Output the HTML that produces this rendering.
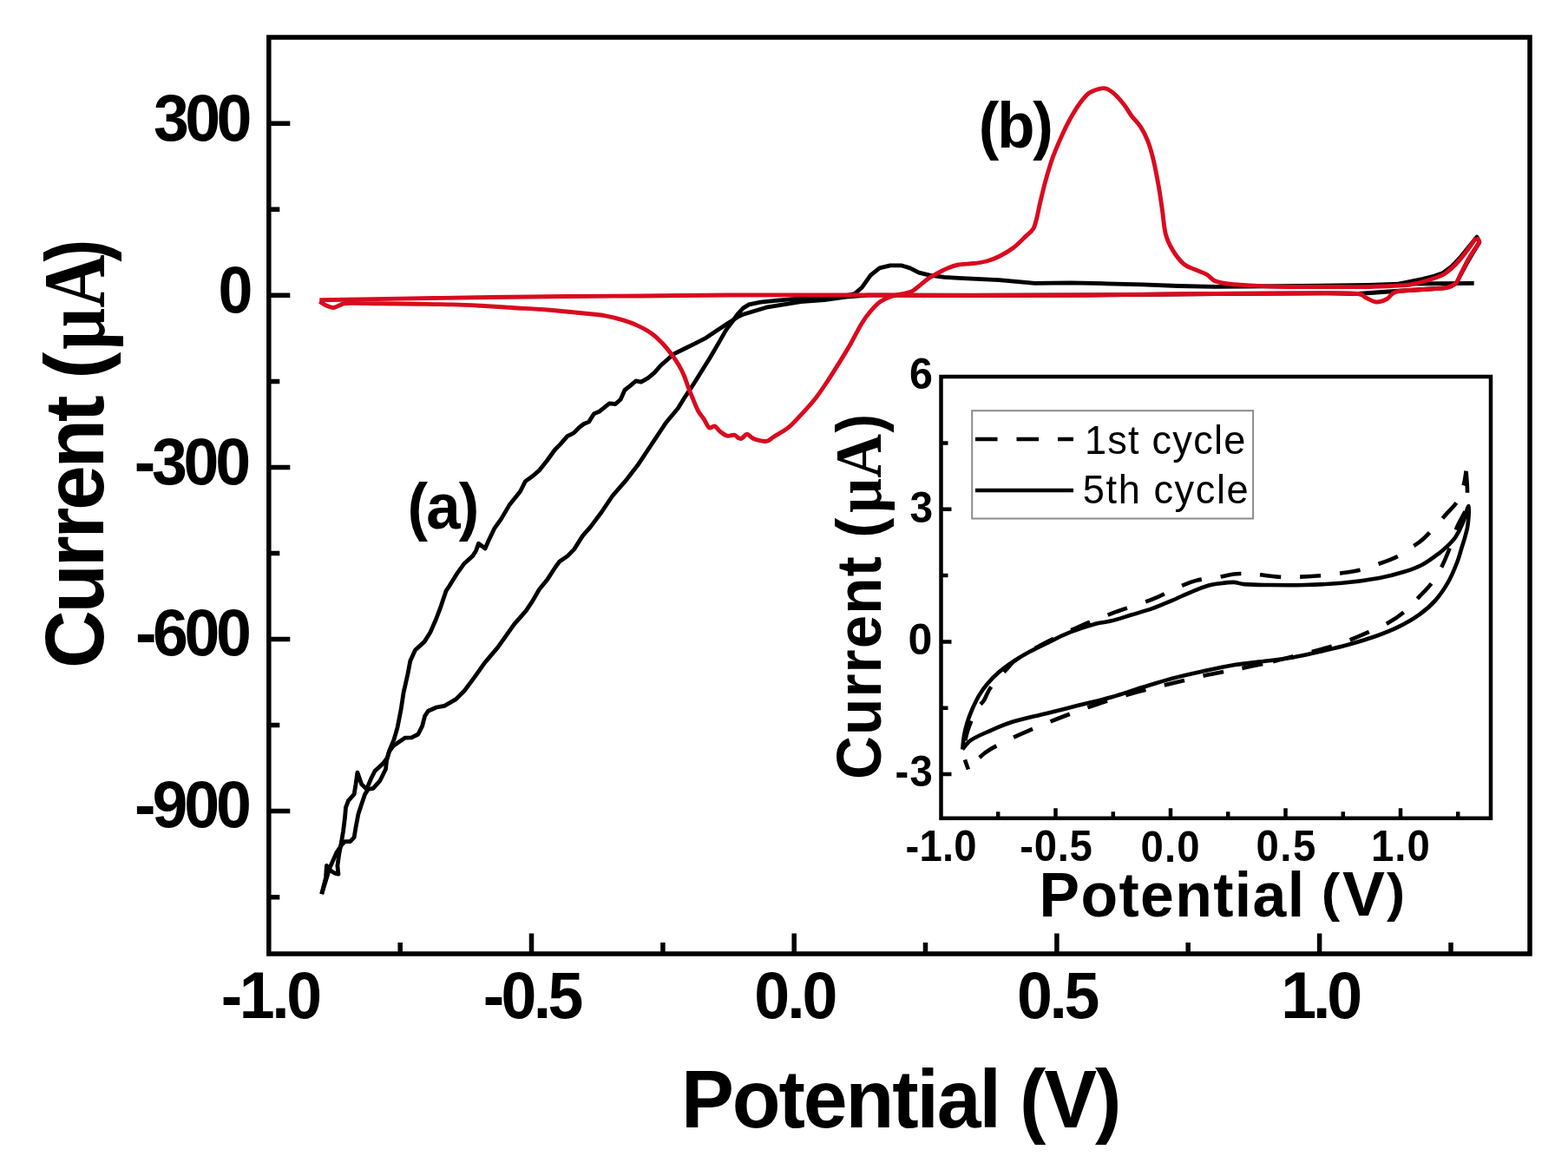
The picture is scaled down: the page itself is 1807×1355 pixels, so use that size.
<!DOCTYPE html>
<html><head><meta charset="utf-8"><title>Cyclic voltammogram</title>
<style>
html,body{margin:0;padding:0;background:#fff;overflow:hidden;}
svg{display:block;}
.b{font-family:"Liberation Sans",Arial,sans-serif;font-weight:bold;fill:#000;}
.r{font-family:"Liberation Sans",Arial,sans-serif;font-weight:normal;fill:#000;}
.s{font-family:"Liberation Serif","Times New Roman",serif;font-weight:bold;}
</style></head><body>
<svg width="1807" height="1355" viewBox="0 0 1807 1355">
<rect x="0" y="0" width="1807" height="1355" fill="#fff"/>
<g fill="none" stroke="#000" stroke-width="4.8" stroke-linejoin="round" stroke-linecap="butt">
<polyline id="blkA" points="370.7,1030.1 375.5,1011.0 376.4,997.5 381.2,1003.3 386.0,1006.2 389.9,1007.1 388.9,997.5 390.8,984.1 393.7,968.8 395.6,957.3 397.5,941.9 398.5,930.4 401.4,922.7 408.1,915.1 410.0,903.6 411.9,890.1 416.7,903.6 422.5,909.3 427.3,897.8 432.1,888.2 441.6,879.6 446.4,872.9 449.3,863.3 454.1,851.8 458.0,838.4 462.2,817.0 465.1,797.9 469.9,776.8 472.8,761.5 478.5,749.0 489.1,739.4 495.8,728.8 502.5,713.5 508.3,698.1 514.0,680.9 517.9,675.1 527.4,659.8 535.1,649.2 544.7,640.6 548.5,634.8 551.4,626.2 559.1,632.0 562.9,623.3 569.7,608.9 577.3,598.4 586.9,582.1 596.5,570.0 599.4,566.5 605.4,554.6 613.6,548.7 621.9,541.6 630.2,531.0 639.6,518.0 645.5,512.1 653.8,502.7 660.9,499.1 666.8,493.2 672.7,488.5 678.6,486.1 684.5,476.7 690.4,474.3 702.2,464.9 709.3,465.5 715.2,460.2 719.9,449.5 725.8,444.8 732.9,438.9 738.8,440.1 747.1,435.4 754.2,429.4 761.3,421.2 776.0,408.2 788.4,402.0 800.8,395.8 813.2,389.6 825.6,381.3 838.0,373.1 850.4,365.2 856.6,362.2 869.8,358.2 883.1,354.2 903.0,350.9 923.0,347.6 950.0,345.5 975.0,342.0 1000.0,340.2 1120.0,340.3 1250.0,340.0 1400.0,338.5 1530.0,337.8 1564.7,338.5 1600.0,336.0 1640.0,333.5 1666.5,331.7 1677.8,326.4"/>
<polyline id="blkB" points="370.7,1030.1 380.0,1000.0 388.0,982.0 393.7,973.6 397.5,969.7 403.3,969.7 408.1,964.9 410.0,953.4 412.9,938.1 416.7,926.6 420.6,915.1 424.4,909.3 430.1,908.4 437.8,899.7 444.5,886.3 445.5,876.7 448.4,866.2 453.2,859.5 458.9,855.6 466.6,850.2 474.3,849.9 481.9,846.0 486.7,836.4 489.6,825.0 493.4,819.2 503.0,815.0 512.1,813.3 525.5,805.6 535.1,796.0 546.6,780.6 558.1,764.3 573.5,746.1 583.1,732.7 592.7,719.2 606.1,703.9 613.8,692.4 621.5,679.0 631.0,667.4 639.7,654.0 644.5,647.3 654.1,640.6 661.7,632.9 671.3,617.6 680.9,606.6 693.3,590.0 705.7,571.5 720.2,554.9 734.7,536.3 751.2,511.5 767.7,486.7 781.3,470.5 789.6,457.1 797.9,444.7 808.2,428.2 818.5,411.7 828.8,394.1 837.1,379.6 843.3,371.5 849.9,362.2 856.6,354.9 863.2,350.9 876.5,348.2 896.4,346.2 916.3,344.3 950.0,343.2 970.0,341.5 984.7,338.5 993.0,331.7 1003.3,317.2 1013.6,308.9 1026.0,305.8 1038.4,305.8 1048.7,308.9 1059.0,314.1 1071.4,317.2 1088.0,319.3 1104.5,320.3 1151.3,322.7 1192.6,326.3 1233.9,325.8 1275.3,326.8 1316.6,327.9 1357.9,329.5 1400.0,330.3 1500.0,329.5 1577.0,328.5 1620.0,327.0 1698.7,326.4"/>
<polyline id="blkS" points="1612.0,327.0 1640.0,321.4 1653.0,318.0 1663.0,314.5 1673.0,307.0 1683.0,296.5 1693.0,284.0 1702.0,273.0 1705.0,279.0 1697.0,292.0 1690.0,304.0 1683.0,317.0 1678.0,327.0"/>
</g>
<g fill="none" stroke="#da0a1e" stroke-width="4.9" stroke-linejoin="round" stroke-linecap="butt">
<path id="redF" d="M368.3,347.4 C369.6,348.2 373.4,350.8 376.0,352.0 C378.6,353.2 381.3,354.6 384.0,354.5 C386.7,354.4 389.3,352.3 392.0,351.5 C394.7,350.7 392.3,349.8 400.0,349.5 C407.7,349.2 424.7,349.7 438.0,349.8 C451.3,349.9 466.2,350.0 480.0,350.2 C493.8,350.4 508.6,350.5 521.0,350.9 C533.4,351.2 542.7,351.7 554.2,352.3 C565.7,352.9 577.2,353.7 590.0,354.5 C602.8,355.3 620.2,356.2 631.0,357.0 C641.8,357.8 648.0,358.6 655.0,359.3 C662.0,360.0 665.6,360.2 672.7,361.0 C679.8,361.8 689.9,362.5 697.5,363.8 C705.1,365.1 711.9,367.0 718.1,368.9 C724.3,370.8 729.2,372.5 734.7,375.1 C740.2,377.7 746.4,380.9 751.2,384.4 C756.0,387.8 759.8,391.8 763.6,395.8 C767.4,399.8 770.8,404.1 773.9,408.2 C777.0,412.3 779.8,416.5 782.2,420.6 C784.6,424.7 786.5,428.5 788.4,433.0 C790.3,437.5 791.9,443.0 793.6,447.5 C795.3,452.0 796.8,455.4 798.7,459.9 C800.6,464.4 802.9,470.5 805.0,474.3 C807.1,478.1 809.1,479.5 811.1,482.6 C813.1,485.7 815.2,491.5 817.3,492.9 C819.4,494.3 821.4,490.2 823.5,490.9 C825.6,491.6 827.3,495.2 829.7,497.1 C832.1,499.0 835.2,501.5 838.0,502.2 C840.8,502.9 844.2,500.9 846.2,501.2 C848.2,501.5 848.9,503.5 850.3,504.2 C851.7,504.9 852.8,506.0 854.5,505.3 C856.2,504.6 858.8,500.4 860.7,500.2 C862.6,500.0 864.3,503.0 866.0,504.0 C867.7,505.0 868.1,505.6 871.0,506.3 C873.9,507.0 879.9,508.9 883.4,508.4 C886.9,507.9 887.6,505.8 891.7,503.2 C895.8,500.6 903.0,497.0 908.2,492.9 C913.4,488.8 917.5,483.9 922.7,478.4 C927.9,472.9 934.0,466.4 939.2,459.8 C944.4,453.2 948.9,446.3 953.7,439.1 C958.5,431.9 963.6,423.6 968.1,416.4 C972.6,409.2 976.4,402.9 980.5,395.7 C984.6,388.5 989.1,379.2 992.9,373.0 C996.7,366.8 999.8,362.6 1003.3,358.5 C1006.8,354.4 1009.8,350.9 1013.6,348.2 C1017.4,345.4 1021.9,343.6 1026.0,342.0 C1030.1,340.4 1034.3,339.9 1038.4,338.9 C1042.5,337.9 1047.4,337.4 1050.8,335.8 C1054.2,334.2 1055.9,332.0 1059.0,329.6 C1062.1,327.2 1066.0,323.7 1069.4,321.3 C1072.9,318.9 1075.9,317.2 1079.7,315.1 C1083.5,313.0 1088.0,310.6 1092.1,308.9 C1096.2,307.2 1099.5,305.9 1104.5,305.0 C1109.5,304.1 1117.0,304.2 1122.4,303.5 C1127.8,302.8 1132.1,302.3 1136.9,301.0 C1141.7,299.7 1146.2,298.1 1151.3,295.5 C1156.4,292.9 1162.6,289.4 1167.8,285.5 C1173.0,281.6 1178.5,275.7 1182.3,272.1 C1186.1,268.5 1188.5,267.2 1190.6,263.8 C1192.7,260.4 1193.3,256.6 1194.7,251.5 C1196.1,246.3 1197.1,240.1 1198.8,232.9 C1200.5,225.7 1202.6,216.7 1205.0,208.1 C1207.4,199.5 1210.2,189.8 1213.3,181.2 C1216.4,172.6 1220.2,164.0 1223.6,156.4 C1227.0,148.8 1230.5,142.0 1233.9,135.8 C1237.4,129.6 1240.8,123.9 1244.3,119.2 C1247.8,114.5 1250.8,110.3 1254.6,107.5 C1258.4,104.7 1263.5,103.2 1267.0,102.3 C1270.5,101.4 1272.2,101.1 1275.3,102.3 C1278.4,103.5 1282.2,106.3 1285.6,109.5 C1289.0,112.7 1292.8,117.3 1295.9,121.3 C1299.0,125.3 1301.1,129.6 1304.2,133.7 C1307.3,137.8 1311.4,141.3 1314.5,146.1 C1317.6,150.9 1320.4,156.4 1322.8,162.6 C1325.2,168.8 1326.9,174.7 1329.0,183.3 C1331.1,191.9 1333.5,204.7 1335.2,214.3 C1336.9,223.9 1337.9,231.8 1339.3,241.1 C1340.7,250.4 1341.3,262.1 1343.4,270.0 C1345.5,277.9 1348.2,282.9 1351.7,288.6 C1355.2,294.3 1360.0,300.5 1364.1,304.1 C1368.2,307.7 1372.0,308.2 1376.5,310.3 C1381.0,312.4 1387.1,314.3 1390.9,316.5 C1394.7,318.7 1395.8,321.6 1399.2,323.3 C1402.7,325.0 1407.0,325.7 1411.6,326.5 C1416.2,327.3 1416.7,327.4 1426.6,328.0 C1436.5,328.6 1454.6,329.9 1470.8,330.3 C1487.0,330.7 1506.3,330.5 1524.0,330.5 C1541.7,330.5 1562.2,330.8 1577.0,330.5 C1591.8,330.2 1604.5,329.4 1612.5,329.0 C1620.5,328.6 1620.4,328.8 1625.0,328.0 C1629.6,327.2 1635.3,325.8 1640.0,324.5 C1644.7,323.2 1649.3,321.8 1653.2,320.5 C1657.1,319.2 1659.9,318.4 1663.2,316.5 C1666.5,314.6 1669.8,312.0 1673.1,309.0 C1676.4,306.0 1679.8,302.3 1683.1,298.4 C1686.4,294.5 1690.0,289.6 1693.0,285.5 C1696.0,281.4 1699.7,275.9 1701.0,274.0"/>
<path id="redR" d="M1701.0,274.0 C1701.6,274.8 1705.3,276.0 1704.5,279.0 C1703.7,282.0 1698.9,287.9 1696.4,291.9 C1693.9,295.9 1691.9,299.1 1689.7,303.2 C1687.5,307.3 1685.1,312.5 1683.1,316.4 C1681.1,320.3 1680.6,323.8 1677.8,326.4 C1675.0,328.9 1672.8,330.5 1666.5,331.7 C1660.2,332.9 1649.1,332.9 1640.0,333.5 C1630.9,334.1 1618.0,334.6 1612.0,335.5 C1606.0,336.4 1606.3,337.5 1604.0,339.0 C1601.7,340.5 1601.3,343.0 1598.3,344.5 C1595.3,346.0 1590.1,348.3 1586.0,348.0 C1581.9,347.7 1577.0,344.3 1573.5,342.7 C1570.0,341.1 1572.0,339.3 1564.7,338.5 C1557.5,337.7 1557.5,337.8 1530.0,337.8 C1502.5,337.8 1446.7,338.1 1400.0,338.5 C1353.3,338.9 1296.7,339.7 1250.0,340.0 C1203.3,340.3 1161.7,340.3 1120.0,340.3 C1078.3,340.3 1046.7,340.1 1000.0,340.0 C953.3,339.9 883.3,339.8 840.0,340.0 C796.7,340.2 770.8,340.8 740.0,341.0 C709.2,341.2 695.0,341.1 655.0,341.5 C615.0,341.9 547.8,342.8 500.0,343.5 C452.2,344.2 390.2,345.3 368.3,345.7"/>
</g>
<rect x="309.8" y="43.0" width="1453.2" height="1056.0" fill="none" stroke="#000" stroke-width="5.5"/>
<path d="M309.8,142.2H334.3M309.8,340.3H334.3M309.8,538.4H334.3M309.8,736.5H334.3M309.8,934.6H334.3M309.8,241.2H322.3M309.8,439.4H322.3M309.8,637.5H322.3M309.8,835.5H322.3M309.8,1033.7H322.3M612.5,1099.0V1075.5M915.2,1099.0V1075.5M1217.9,1099.0V1075.5M1520.6,1099.0V1075.5M461.2,1099.0V1086.0M763.9,1099.0V1086.0M1066.5,1099.0V1086.0M1369.2,1099.0V1086.0M1672.0,1099.0V1086.0" stroke="#000" stroke-width="5.5" fill="none"/>
<rect x="1084.5" y="434.0" width="633.5" height="508.8" fill="#fff" stroke="none"/>
<rect x="1120.2" y="473.2" width="323.9" height="124.3" fill="none" stroke="#8c8c8c" stroke-width="2"/>
<g fill="none" stroke="#000" stroke-width="4.6" stroke-linejoin="round">
<path id="sol" d="M1109.2,863.5 C1109.5,860.8 1110.1,852.5 1111.1,847.2 C1112.0,841.9 1113.3,836.9 1114.9,831.8 C1116.5,826.7 1118.5,821.6 1120.7,816.5 C1123.0,811.4 1125.5,805.9 1128.4,801.1 C1131.3,796.3 1134.2,792.2 1138.0,787.7 C1141.8,783.2 1146.6,778.4 1151.4,774.3 C1156.2,770.1 1161.0,766.6 1166.7,762.8 C1172.5,759.0 1178.9,755.1 1185.9,751.3 C1192.9,747.5 1200.9,743.6 1208.9,739.8 C1216.9,735.9 1225.0,731.7 1233.9,728.2 C1242.9,724.7 1254.9,720.8 1262.6,718.7 C1270.3,716.6 1273.2,717.3 1280.0,715.6 C1286.8,713.9 1295.7,710.9 1303.6,708.5 C1311.5,706.1 1319.3,704.2 1327.2,701.4 C1335.1,698.6 1342.9,695.2 1350.8,691.9 C1358.7,688.5 1367.6,684.1 1374.5,681.3 C1381.4,678.4 1387.3,676.3 1392.2,674.8 C1397.1,673.3 1399.1,673.1 1404.0,672.5 C1408.9,671.9 1416.8,670.8 1421.7,670.9 C1426.6,671.0 1427.6,672.6 1433.5,673.1 C1439.4,673.6 1445.5,673.9 1457.1,674.0 C1468.7,674.1 1488.3,674.4 1503.2,674.0 C1518.1,673.6 1531.9,673.1 1546.3,671.8 C1560.7,670.5 1577.5,668.2 1589.5,666.0 C1601.5,663.8 1609.9,661.4 1618.3,658.8 C1626.7,656.2 1633.2,653.8 1639.9,650.2 C1646.6,646.6 1653.8,640.9 1658.6,637.3 C1663.4,633.7 1665.5,631.6 1668.6,628.6 C1671.7,625.6 1674.5,623.3 1677.3,619.0 C1680.1,614.7 1683.0,609.0 1685.5,603.0 C1688.0,597.0 1691.5,582.7 1692.5,583.0 C1693.5,583.3 1692.2,599.2 1691.5,605.0 C1690.8,610.8 1689.5,614.1 1688.5,618.0 C1687.5,621.9 1686.9,623.5 1685.3,628.5 C1683.7,633.5 1681.8,641.1 1679.1,648.2 C1676.3,655.3 1672.9,663.7 1668.8,670.9 C1664.7,678.1 1659.8,685.4 1654.3,691.6 C1648.8,697.8 1642.9,702.9 1635.7,708.1 C1628.5,713.3 1619.5,718.4 1610.9,722.6 C1602.3,726.8 1593.7,730.1 1584.0,733.5 C1574.3,736.9 1563.7,740.1 1553.0,743.0 C1542.3,745.9 1530.5,748.6 1520.0,751.0 C1509.5,753.4 1500.0,755.8 1490.0,757.5 C1480.0,759.2 1471.4,760.0 1460.0,761.5 C1448.6,763.0 1434.0,764.3 1421.7,766.3 C1409.4,768.3 1398.1,770.8 1386.3,773.4 C1374.5,776.0 1362.6,778.6 1350.8,781.7 C1339.0,784.9 1326.9,788.8 1315.4,792.3 C1303.9,795.8 1293.8,799.6 1281.8,803.0 C1269.8,806.4 1256.3,809.4 1243.5,812.6 C1230.7,815.8 1217.9,819.0 1205.1,822.2 C1192.3,825.4 1177.9,828.3 1166.7,831.8 C1155.5,835.3 1146.0,839.8 1138.0,843.3 C1130.0,846.8 1123.6,849.5 1118.8,852.9 C1114.0,856.3 1110.8,861.7 1109.2,863.5"/>
<path id="dasU" d="M1115.9,886.5 C1115.1,883.8 1111.5,876.1 1111.0,870.0 C1110.5,863.9 1111.7,856.4 1113.0,850.0 C1114.3,843.6 1116.5,837.6 1118.8,831.8 C1121.1,826.0 1124.5,819.1 1127.0,815.0 C1129.5,810.9 1131.5,810.7 1134.0,806.9 C1136.5,803.1 1137.0,798.5 1141.8,792.0 C1146.6,785.5 1158.1,773.2 1162.9,768.0 C1167.7,762.8 1164.4,764.7 1170.6,760.5 C1176.8,756.3 1187.8,749.4 1200.0,743.0 C1212.2,736.6 1229.2,728.3 1243.5,722.0 C1257.8,715.7 1276.9,708.6 1285.7,705.2 C1294.5,701.8 1291.2,703.2 1296.5,701.4 C1301.8,699.6 1311.5,696.6 1317.8,694.3 C1324.1,692.0 1327.8,690.6 1334.3,687.8 C1340.8,684.9 1349.3,680.4 1356.7,677.2 C1364.1,674.1 1371.0,670.9 1378.6,668.9 C1386.2,666.9 1394.5,666.7 1402.2,665.4 C1409.9,664.1 1417.2,661.9 1424.6,661.3 C1432.0,660.7 1438.1,661.2 1446.5,661.8 C1454.9,662.4 1466.1,664.3 1474.8,664.8 C1483.5,665.3 1490.9,664.9 1498.8,664.6 C1506.7,664.3 1514.0,663.9 1521.9,663.2 C1529.8,662.5 1538.8,661.4 1546.3,660.3 C1553.8,659.2 1560.0,658.5 1567.2,656.7 C1574.4,654.9 1582.4,652.0 1589.5,649.5 C1596.6,647.0 1603.6,644.6 1609.6,641.6 C1615.6,638.6 1620.2,635.1 1625.5,631.5 C1630.8,627.9 1634.7,626.2 1641.3,620.0 C1647.9,613.8 1658.5,601.6 1664.9,594.4 C1671.4,587.2 1676.4,582.7 1680.0,577.0 C1683.6,571.3 1684.9,565.7 1686.5,560.0 C1688.1,554.3 1689.1,545.6 1689.6,542.7" stroke-dasharray="24 22" stroke-dashoffset="12.2"/>
<path id="dasR" d="M1689.6,542.7 C1689.8,546.4 1690.9,558.0 1691.0,565.0 C1691.1,572.0 1692.0,578.0 1690.0,585.0 C1688.0,592.0 1682.6,598.8 1679.3,606.8 C1676.0,614.8 1673.1,625.3 1670.1,633.0 C1667.1,640.7 1664.8,646.6 1661.4,653.1 C1658.0,659.6 1654.2,666.0 1649.9,671.8 C1645.6,677.5 1640.8,682.1 1635.5,687.6 C1630.2,693.1 1624.3,699.9 1618.3,704.9 C1612.3,709.9 1606.3,714.0 1599.6,717.8 C1592.9,721.6 1585.0,724.8 1578.0,727.9 C1571.0,731.0 1564.5,733.9 1557.8,736.5 C1551.1,739.1 1544.4,741.5 1537.7,743.7 C1531.0,745.9 1525.8,747.3 1517.6,749.5 C1509.4,751.7 1498.4,754.3 1488.8,756.7 C1479.2,759.1 1464.8,762.7 1460.0,763.9" stroke-dasharray="24 22" stroke-dashoffset="45.0"/>
<path id="dasL" d="M1460.0,763.9 C1454.8,765.0 1437.5,768.7 1428.8,770.5 C1420.0,772.3 1414.6,773.1 1407.5,774.5 C1400.4,775.9 1393.8,777.1 1386.3,778.8 C1378.8,780.5 1370.1,782.7 1362.6,784.5 C1355.1,786.3 1350.1,787.4 1341.4,789.5 C1332.7,791.6 1323.1,793.8 1310.6,797.3 C1298.1,800.8 1280.9,805.9 1266.5,810.7 C1252.1,815.5 1238.4,820.6 1224.3,826.0 C1210.2,831.4 1193.9,838.2 1182.1,843.3 C1170.3,848.4 1161.3,852.6 1153.3,856.8 C1145.3,861.0 1140.3,863.3 1134.1,868.3 C1127.9,873.2 1118.9,883.5 1115.9,886.5" stroke-dasharray="24 22" stroke-dashoffset="41.0"/>
<path d="M1124,506H1237" stroke-dasharray="25.5 22"/>
<path d="M1124,565H1237"/>
</g>
<rect x="1084.5" y="434.0" width="633.5" height="508.8" fill="none" stroke="#000" stroke-width="4.5"/>
<path d="M1084.5,586.7H1096.5M1084.5,739.4H1096.5M1084.5,892.1H1096.5M1084.5,510.4H1092.5M1084.5,663.0H1092.5M1084.5,815.8H1092.5M1216.5,942.8V931.3M1349.0,942.8V931.3M1481.5,942.8V931.3M1614.0,942.8V931.3M1150.2,942.8V935.3M1282.8,942.8V935.3M1415.2,942.8V935.3M1547.8,942.8V935.3M1680.2,942.8V935.3" stroke="#000" stroke-width="4.5" fill="none"/>
<text id="yl300" class="b" transform="translate(285.60,162.10) scale(1.0000,1.0410)" font-size="73.50" letter-spacing="-4.65" text-anchor="end">300</text>
<text id="yl0" class="b" transform="translate(285.90,359.50) scale(0.9755,1.0410)" font-size="73.50" letter-spacing="-5.50" text-anchor="end">0</text>
<text id="yl-300" class="b" transform="translate(284.90,558.40) scale(1.0000,1.0410)" font-size="73.50" letter-spacing="-4.23" text-anchor="end">-300</text>
<text id="yl-600" class="b" transform="translate(285.40,755.00) scale(1.0000,1.0410)" font-size="73.50" letter-spacing="-4.40" text-anchor="end">-600</text>
<text id="yl-900" class="b" transform="translate(285.80,952.80) scale(1.0000,1.0410)" font-size="73.50" letter-spacing="-4.07" text-anchor="end">-900</text>
<text id="xl-1.0" class="b" transform="translate(311.20,1172.70) scale(1.0000,1.0410)" font-size="73.50" letter-spacing="-3.46" text-anchor="middle">-1.0</text>
<text id="xl-0.5" class="b" transform="translate(612.70,1173.20) scale(1.0000,1.0410)" font-size="73.50" letter-spacing="-3.69" text-anchor="middle">-0.5</text>
<text id="xl0.0" class="b" transform="translate(915.90,1172.70) scale(1.0000,1.0410)" font-size="73.50" letter-spacing="-3.01" text-anchor="middle">0.0</text>
<text id="xl0.5" class="b" transform="translate(1218.00,1172.70) scale(1.0000,1.0410)" font-size="73.50" letter-spacing="-3.45" text-anchor="middle">0.5</text>
<text id="xl1.0" class="b" transform="translate(1521.20,1173.20) scale(1.0000,1.0410)" font-size="73.50" letter-spacing="-4.12" text-anchor="middle">1.0</text>
<text id="xt" class="b" transform="translate(1037.70,1299.00) scale(1.0000,1.0410)" font-size="91.40" letter-spacing="-2.14" text-anchor="middle">Potential (V)</text>
<text id="yt1" class="b" transform="translate(118.80,408.90) rotate(-90) scale(1.0000,1.0410)" font-size="92.50" letter-spacing="-3.28" text-anchor="end">Current (</text>
<text id="yt2" class="s" transform="translate(119.60,348.40) rotate(-90) scale(0.8287,1.0000)" font-size="102.00" text-anchor="middle">µA</text>
<text id="yt3" class="b" transform="translate(119.90,288.70) rotate(-90) scale(0.8346,1.0410)" font-size="92.50" text-anchor="middle">)</text>
<text id="la" class="b" transform="translate(469.60,609.20) scale(1.0000,1.0410)" font-size="70.80" letter-spacing="-1.90">(a)</text>
<text id="lb" class="b" transform="translate(1127.70,169.50) scale(1.0000,1.0410)" font-size="70.80" letter-spacing="-2.09">(b)</text>
<text id="iyl6" class="b" transform="translate(1075.00,448.40) scale(1.0234,1.0410)" font-size="47.30" text-anchor="end">6</text>
<text id="iyl3" class="b" transform="translate(1075.00,601.60) scale(1.0104,1.0410)" font-size="47.30" text-anchor="end">3</text>
<text id="iyl0" class="b" transform="translate(1074.40,754.10) scale(1.0596,1.0410)" font-size="47.30" text-anchor="end">0</text>
<text id="iyl-3" class="b" transform="translate(1076.00,906.40) scale(1.0000,1.0410)" font-size="47.30" letter-spacing="1.16" text-anchor="end">-3</text>
<text id="ixl-1.0" class="b" transform="translate(1084.60,991.70) scale(1.0000,1.0410)" font-size="47.30" letter-spacing="0.21" text-anchor="middle">-1.0</text>
<text id="ixl-0.5" class="b" transform="translate(1217.40,992.20) scale(1.0000,1.0410)" font-size="47.30" letter-spacing="0.72" text-anchor="middle">-0.5</text>
<text id="ixl0.0" class="b" transform="translate(1349.20,992.70) scale(1.0000,1.0410)" font-size="47.30" letter-spacing="1.18" text-anchor="middle">0.0</text>
<text id="ixl0.5" class="b" transform="translate(1482.60,992.20) scale(1.0000,1.0410)" font-size="47.30" letter-spacing="1.45" text-anchor="middle">0.5</text>
<text id="ixl1.0" class="b" transform="translate(1614.40,992.20) scale(1.0000,1.0410)" font-size="47.30" letter-spacing="1.00" text-anchor="middle">1.0</text>
<text id="ixt1" class="b" transform="translate(1197.60,1056.20) scale(1.0000,1.0410)" font-size="69.80" letter-spacing="1.34">Potential</text>
<text id="ixt2" class="b" transform="translate(1522.80,1048.50) scale(1.1050,1.0410)" font-size="58.20">(</text>
<text id="ixt3" class="b" transform="translate(1546.90,1054.70) scale(1.0515,1.0410)" font-size="69.80">V</text>
<text id="ixt4" class="b" transform="translate(1598.00,1048.50) scale(1.0929,1.0410)" font-size="58.20">)</text>
<text id="iyt1" class="b" transform="translate(1014.80,595.60) rotate(-90) scale(1.0000,1.0410)" font-size="69.20" letter-spacing="1.14" text-anchor="end">Current (</text>
<text id="iyt2" class="s" transform="translate(1014.50,545.70) rotate(-90) scale(0.9358,1.0000)" font-size="75.20" text-anchor="middle">µA</text>
<text id="iyt3" class="b" transform="translate(1014.80,487.80) rotate(-90) scale(0.9290,1.0410)" font-size="69.20" text-anchor="middle">)</text>
<text id="lg1" class="r" transform="translate(1249.90,522.70) scale(1.0000,1.0410)" font-size="45.20" letter-spacing="1.20">1st cycle</text>
<text id="lg2" class="r" transform="translate(1247.80,580.40) scale(1.0000,1.0410)" font-size="45.20" letter-spacing="1.57">5th cycle</text>
</svg>
</body></html>
